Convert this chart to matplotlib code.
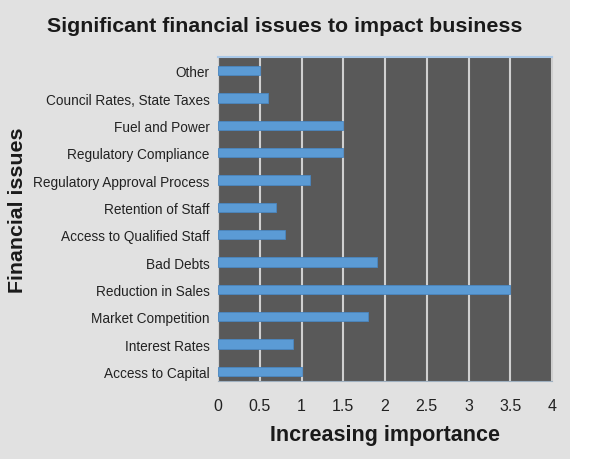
import matplotlib
matplotlib.use("Agg")
import matplotlib.pyplot as plt
from matplotlib.patches import Rectangle

categories = ["Access to Capital", "Interest Rates", "Market Competition", "Reduction in Sales",
              "Bad Debts", "Access to Qualified Staff", "Retention of Staff",
              "Regulatory Approval Process", "Regulatory Compliance", "Fuel and Power",
              "Council Rates, State Taxes", "Other"]
values = [1.0, 0.9, 1.8, 3.5, 1.9, 0.8, 0.7, 1.1, 1.5, 1.5, 0.6, 0.5]
xticks = [0, 0.5, 1, 1.5, 2, 2.5, 3, 3.5, 4]
xtick_labels = ["0", "0.5", "1", "1.5", "2", "2.5", "3", "3.5", "4"]

plt.rcParams['font.family'] = ["Liberation Sans", "DejaVu Sans"]

fig = plt.figure(figsize=(6, 4.6), dpi=100)
fig.patch.set_facecolor("white")
fig.patches.append(Rectangle((0, 0), 570/600, 1, transform=fig.transFigure,
                             facecolor="#e1e1e1", edgecolor="none", zorder=-10))

ax = fig.add_axes([218/600, 1 - 382/460, (552-218)/600, (382-58)/460])
ax.set_facecolor("#595959")
ypos = list(range(len(categories)))
ax.barh(ypos, values, height=0.34, color="#5b9bd5", edgecolor="#4a86c0", linewidth=0.6, zorder=3)
ax.set_xlim(0, 4)
ax.set_ylim(-0.35, 11.5)
ax.set_yticks(ypos)
ax.set_yticklabels(categories, fontsize=9.8, color="#222222")
ax.set_xticks(xticks)
ax.set_xticklabels(xtick_labels, fontsize=11.5, color="#222222")
ax.tick_params(axis="y", length=0, pad=6)
ax.tick_params(axis="x", length=0, pad=12)
ax.grid(axis="x", color="#d0d0d0", linewidth=1.5, zorder=1)
ax.set_axisbelow(True)
ax.spines["top"].set_color("#a9c8e8")
ax.spines["top"].set_linewidth(1.5)
ax.spines["bottom"].set_color("#9fb0c0")
ax.spines["left"].set_color("#cfcfcf")
ax.spines["right"].set_color("#cfcfcf")

ax.set_xlabel("Increasing importance", fontsize=15.5, fontweight="bold", color="#1a1a1a", labelpad=8)
fig.text(18/600, 1 - 210/460, "Financial issues", rotation=90, fontsize=15.4, fontweight="bold",
         color="#1a1a1a", ha="center", va="center")
fig.text(285/600, 1 - 27/460, "Significant financial issues to impact business", fontsize=15.4,
         fontweight="bold", color="#1a1a1a", ha="center", va="center")

fig.savefig("out.png", dpi=100, facecolor=fig.get_facecolor())
